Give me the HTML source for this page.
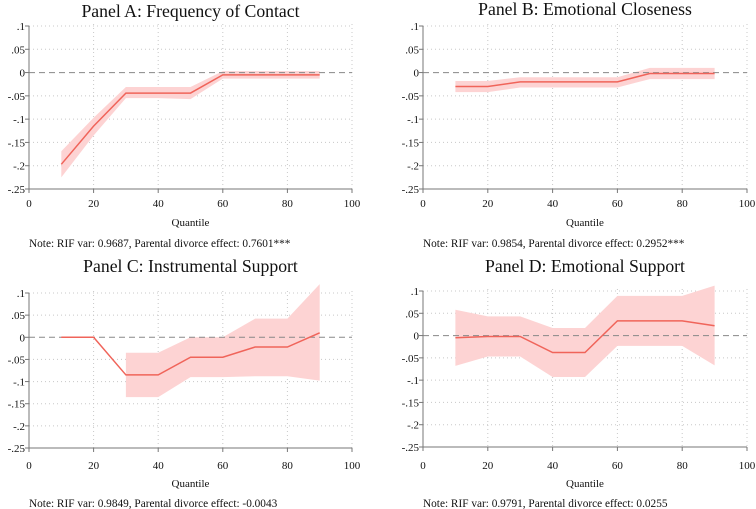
<!DOCTYPE html>
<html><head><meta charset="utf-8">
<style>
html,body{margin:0;padding:0;background:#fff;}
svg{display:block;font-family:"Liberation Serif",serif;}
</style></head>
<body>
<svg id="chart" width="756" height="509" viewBox="0 0 756 509"></svg>
<script>
const quantiles=[10,20,30,40,50,60,70,80,90];
const xTicks=[0,20,40,60,80,100];
const yTicks=[0.1,0.05,0,-0.05,-0.1,-0.15,-0.2,-0.25];
const yTickLabels=[".1",".05","0","-.05","-.1","-.15","-.2","-.25"];
const titles=["Panel A: Frequency of Contact","Panel B: Emotional Closeness","Panel C: Instrumental Support","Panel D: Emotional Support"];
const notes=["Note: RIF var: 0.9687, Parental divorce effect: 0.7601***","Note: RIF var: 0.9854, Parental divorce effect: 0.2952***","Note: RIF var: 0.9849, Parental divorce effect: -0.0043","Note: RIF var: 0.9791, Parental divorce effect: 0.0255"];
const estA=[-0.197,-0.115,-0.044,-0.044,-0.044,-0.005,-0.005,-0.005,-0.005];
const loA=[-0.225,-0.135,-0.055,-0.055,-0.057,-0.013,-0.013,-0.013,-0.013];
const hiA=[-0.169,-0.097,-0.031,-0.031,-0.031,0.003,0.003,0.003,0.003];
const estB=[-0.03,-0.03,-0.02,-0.02,-0.02,-0.02,-0.002,-0.002,-0.002];
const loB=[-0.042,-0.042,-0.032,-0.032,-0.032,-0.032,-0.014,-0.014,-0.014];
const hiB=[-0.018,-0.018,-0.01,-0.01,-0.01,-0.01,0.01,0.01,0.01];
const estC=[0,0,-0.085,-0.085,-0.045,-0.045,-0.022,-0.022,0.01];
const loC=[null,null,-0.135,-0.135,-0.09,-0.09,-0.088,-0.088,-0.098];
const hiC=[null,null,-0.035,-0.035,0,0,0.042,0.042,0.12];
const estD=[-0.005,-0.002,-0.002,-0.038,-0.038,0.033,0.033,0.033,0.022];
const loD=[-0.068,-0.047,-0.047,-0.093,-0.093,-0.023,-0.023,-0.023,-0.067];
const hiD=[0.058,0.043,0.043,0.017,0.017,0.089,0.089,0.089,0.112];

const NS="http://www.w3.org/2000/svg";
const svg=document.getElementById('chart');
function mk(tag,attrs,parent){const e=document.createElementNS(NS,tag);for(const k in attrs)e.setAttribute(k,attrs[k]);(parent||svg).appendChild(e);return e;}

const panels=[
 {x0:29,x1:352,yTop:26,yBot:189,est:estA,lo:loA,hi:hiA,key:'a',titleY:17,tickY:207,qY:226,noteY:247,noteX:29},
 {x0:423,x1:747,yTop:26,yBot:189,est:estB,lo:loB,hi:hiB,key:'b',titleY:15,tickY:207,qY:226,noteY:247,noteX:423},
 {x0:29,x1:352,yTop:293,yBot:448,est:estC,lo:loC,hi:hiC,key:'c',titleY:272,tickY:469,qY:487,noteY:507,noteX:29},
 {x0:423,x1:747,yTop:291,yBot:447,est:estD,lo:loD,hi:hiD,key:'d',titleY:272,tickY:469,qY:487,noteY:507,noteX:423}
];

panels.forEach((p,i)=>{
 const g=mk('g',{});
 
 
 const xs=v=>p.x0+(v-0)/100*(p.x1-p.x0);
 const ys=v=>p.yTop+(0.1-v)/0.35*(p.yBot-p.yTop);
 const t=mk('text',{x:(p.x0+p.x1)/2,y:p.titleY,'text-anchor':'middle','font-size':'17.7',fill:'#111'},g);
 t.textContent=titles[i];
 
 
 yTicks.forEach((v,k)=>{
  if(v!==0&&v!==-0.25){const l=mk('line',{x1:p.x0,x2:p.x1,y1:ys(v),y2:ys(v),stroke:'#c8c8c8','stroke-width':1,'stroke-dasharray':'1,3'},g);
   }
  mk('line',{x1:p.x0-4,x2:p.x0,y1:ys(v),y2:ys(v),stroke:'#777','stroke-width':1},g);
  const tl=mk('text',{x:p.x0-4,y:ys(v)+4,'text-anchor':'end','font-size':'11',fill:'#111'},g);
  tl.textContent=yTickLabels[k];
  
  
 });
 xTicks.forEach(v=>{
  if(v!==0){const l=mk('line',{x1:xs(v),x2:xs(v),y1:p.yTop-2,y2:p.yBot,stroke:'#c8c8c8','stroke-width':1,'stroke-dasharray':'1,3'},g);
   }
  mk('line',{x1:xs(v),x2:xs(v),y1:p.yBot,y2:p.yBot+4,stroke:'#777','stroke-width':1},g);
  const tl=mk('text',{x:xs(v),y:p.tickY,'text-anchor':'middle','font-size':'11',fill:'#111'},g);
  tl.textContent=String(v);
  
  
 });
 const idx=quantiles.map((q,k)=>k).filter(k=>p.lo[k]!==null);
 let d='M'+idx.map(k=>xs(quantiles[k])+','+ys(p.hi[k])).join(' L');
 d+=' L'+idx.slice().reverse().map(k=>xs(quantiles[k])+','+ys(p.lo[k])).join(' L')+' Z';
 const band=mk('path',{d:d,fill:'#fdd3d3',stroke:'none'},g);
 
 
 const z=mk('line',{x1:p.x0,x2:p.x1,y1:ys(0),y2:ys(0),stroke:'#888','stroke-width':1,'stroke-dasharray':'6,4'},g);
 
 
 const ln=mk('polyline',{points:quantiles.map((q,k)=>xs(q)+','+ys(p.est[k])).join(' '),fill:'none',stroke:'#f0645a','stroke-width':1.5},g);
 
 
 const ya=mk('line',{x1:p.x0,x2:p.x0,y1:p.yTop,y2:p.yBot,stroke:'#777','stroke-width':1},g);
 
 const xa=mk('line',{x1:p.x0,x2:p.x1,y1:p.yBot,y2:p.yBot,stroke:'#777','stroke-width':1},g);
 
 const q=mk('text',{x:(p.x0+p.x1)/2,y:p.qY,'text-anchor':'middle','font-size':'11',fill:'#111'},g);
 q.textContent='Quantile';
 
 
 const n=mk('text',{x:p.noteX,y:p.noteY,'font-size':'11.3',fill:'#111'},g);
 n.textContent=notes[i];
 
 
});
</script>
</body></html>
